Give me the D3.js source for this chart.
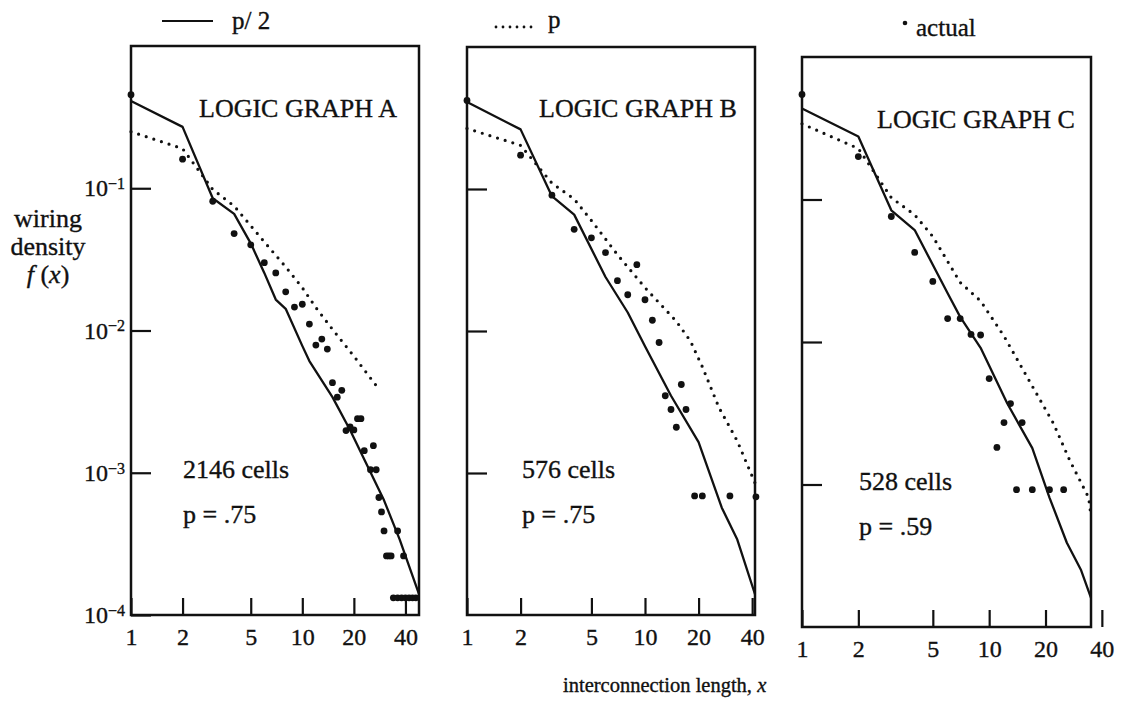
<!DOCTYPE html>
<html>
<head>
<meta charset="utf-8">
<script src="https://cdn.jsdelivr.net/npm/d3@7"></script>
<style>
  body { margin: 0; background: #fff; }
  text { font-family: "Liberation Serif", "Times New Roman", serif; fill: #111; stroke: #111; stroke-width: 0.35px; }
</style>
</head>
<body>
<svg id="chart" width="1122" height="709"></svg>
<script>
// ---- data (x = interconnection length, y = wiring density) ----
// Logic graph A
const aHalfX = [1, 2, 3, 4, 5, 6, 7, 8, 10, 11, 15, 19, 30, 37, 48];
const aHalfY = [0.41, 0.27, 0.085, 0.066, 0.041, 0.0254, 0.0165, 0.0142, 0.0078, 0.0061, 0.0034, 0.002, 0.00064, 0.00034, 0.00014];
const aFullX = [1, 2, 3, 4, 6, 8, 10, 12, 15, 20, 27];
const aFullY = [0.25, 0.19, 0.098, 0.075, 0.042, 0.028, 0.02, 0.0145, 0.0102, 0.0066, 0.0041];
const aActX = [1, 2, 3, 4, 5, 6, 7, 8, 9, 10, 11, 12, 13, 14, 15, 16, 17, 18, 19, 20, 21, 22, 23, 25, 26, 27, 28, 29, 30, 31, 32, 33, 36, 39, 34, 36, 38, 40, 42, 44, 46];
const aActY = [0.455, 0.16, 0.081, 0.048, 0.040, 0.030, 0.0254, 0.0187, 0.0146, 0.0153, 0.0111, 0.0079, 0.0087, 0.0074, 0.0043, 0.0034, 0.0038, 0.00198, 0.0021, 0.0020, 0.0024, 0.0024, 0.00143, 0.00105, 0.00155, 0.00105, 0.00067, 0.00053, 0.00039, 0.00026, 0.00026, 0.00026, 0.00039, 0.00026, 0.000132, 0.000132, 0.000132, 0.000132, 0.000132, 0.000132, 0.000132];

// Logic graph B
const bHalfX = [1, 2, 3, 4, 6, 8, 10, 14, 20, 27, 33, 41.5];
const bHalfY = [0.41, 0.263, 0.089, 0.066, 0.024, 0.0135, 0.0078, 0.0035, 0.00165, 0.00057, 0.00034, 0.00014];
const bFullX = [1, 2, 3, 4, 5, 7, 10, 15, 18, 21, 26, 33, 41.5];
const bFullY = [0.267, 0.203, 0.11, 0.085, 0.06, 0.0345, 0.0202, 0.0117, 0.0085, 0.0056, 0.0029, 0.00168, 0.00085];
const bActX = [1, 2, 3, 4, 5, 6, 7, 8, 9, 10, 11, 12, 13, 14, 15, 16, 17, 19, 21, 30, 42];
const bActY = [0.42, 0.173, 0.0905, 0.052, 0.0453, 0.0356, 0.0226, 0.018, 0.0293, 0.0166, 0.0119, 0.0083, 0.0035, 0.0028, 0.0021, 0.0042, 0.0028, 0.00069, 0.00069, 0.00069, 0.00068];

// Logic graph C
const cHalfX = [1, 2, 3, 4, 6, 7, 8, 9, 12.5, 17, 21, 26, 31, 35];
const cHalfY = [0.435, 0.277, 0.084, 0.061, 0.022, 0.015, 0.0115, 0.0091, 0.0037, 0.0018, 0.00081, 0.00039, 0.00025, 0.00016];
const cFullX = [1, 2, 3, 4, 5, 7, 9, 12, 17, 22, 27, 34, 35];
const cFullY = [0.34, 0.228, 0.103, 0.078, 0.055, 0.0262, 0.0194, 0.011, 0.0049, 0.0027, 0.00147, 0.00081, 0.0006];
const cActX = [1, 2, 3, 4, 5, 6, 7, 8, 9, 10, 11, 12, 13, 14, 15, 17, 21, 25];
const cActY = [0.546, 0.2, 0.076, 0.0425, 0.0266, 0.0146, 0.0146, 0.0113, 0.0112, 0.00554, 0.00182, 0.00272, 0.0037, 0.00092, 0.00272, 0.00092, 0.00092, 0.00092];

const panelTitles = ['LOGIC GRAPH A', 'LOGIC GRAPH B', 'LOGIC GRAPH C'];
const cellCounts = ['2146 cells', '576 cells', '528 cells'];
const pValues = ['p = .75', 'p = .75', 'p = .59'];
const xMaxes = [48, 41.5, 35];
const xTickValues = [1, 2, 5, 10, 20, 40];
const yTickValues = [1e-1, 1e-2, 1e-3, 1e-4];

// ---- layout ----
const layout = [
    {left: 131, right: 419, top: 46, bottom: 615, titleX: 199, titleY: 117, noteX: 183},
    {left: 467, right: 755, top: 47, bottom: 615, titleX: 539, titleY: 117, noteX: 522},
    {left: 802, right: 1091, top: 57, bottom: 627, titleX: 877, titleY: 128, noteX: 859}
];
const series = [
    {half: [aHalfX, aHalfY], full: [aFullX, aFullY], act: [aActX, aActY]},
    {half: [bHalfX, bHalfY], full: [bFullX, bFullY], act: [bActX, bActY]},
    {half: [cHalfX, cHalfY], full: [cFullX, cFullY], act: [cActX, cActY]}
];

const ink = '#111';
const svg = d3.select('#chart');

layout.forEach((L, i) => {
    const x = d3.scaleLog().domain([1, xMaxes[i]]).range([L.left, L.right]);
    const y = d3.scaleLog().domain([1e-4, 1]).range([L.bottom, L.top]);
    const g = svg.append('g');

    // frame
    g.append('rect')
        .attr('x', L.left).attr('y', L.top)
        .attr('width', L.right - L.left).attr('height', L.bottom - L.top)
        .attr('fill', 'none').attr('stroke', ink).attr('stroke-width', 2.5);

    // x axis (ticks pointing inward)
    const xa = g.append('g')
        .attr('transform', `translate(0,${L.bottom})`)
        .call(d3.axisBottom(x).tickValues(xTickValues).tickFormat(d3.format('d'))
            .tickSizeInner(-17).tickSizeOuter(0).tickPadding(13));
    xa.select('.domain').remove();
    xa.attr('font-size', 24).attr('font-family', null).attr('color', ink);
    xa.selectAll('.tick line').attr('stroke-width', 2.2);

    // y axis
    const ya = g.append('g')
        .attr('transform', `translate(${L.left},0)`)
        .call(d3.axisLeft(y).tickValues(i === 0 ? yTickValues : yTickValues.slice(0, 3))
            .tickSizeInner(-20).tickSizeOuter(0).tickPadding(6));
    ya.select('.domain').remove();
    ya.attr('font-size', 24).attr('font-family', null).attr('color', ink);
    ya.selectAll('.tick line').attr('stroke-width', 2.2);
    if (i === 0) {
        ya.selectAll('.tick text').each(function(d) {
            const t = d3.select(this).text(null);
            t.append('tspan').text('10');
            t.append('tspan').attr('dy', '-0.45em').attr('font-size', 16)
                .text('\u2212' + Math.round(-Math.log10(d)));
        });
    } else {
        ya.selectAll('.tick text').remove();
    }

    const line = d3.line().x(d => x(d[0])).y(d => y(d[1]));
    const S = series[i];

    // p/2 : solid
    g.append('path')
        .attr('d', line(d3.zip(S.half[0], S.half[1])))
        .attr('fill', 'none').attr('stroke', ink).attr('stroke-width', 2.3)
        .attr('stroke-linejoin', 'round');

    // p : dotted
    g.append('path')
        .attr('d', line(d3.zip(S.full[0], S.full[1])))
        .attr('fill', 'none').attr('stroke', ink).attr('stroke-width', 3.2)
        .attr('stroke-linecap', 'round').attr('stroke-dasharray', '0 8');

    // actual
    g.selectAll('circle.act')
        .data(d3.zip(S.act[0], S.act[1]))
        .join('circle')
        .attr('class', 'act')
        .attr('cx', d => x(d[0])).attr('cy', d => y(d[1]))
        .attr('r', 3.4).attr('fill', ink);

    // annotations
    g.append('text').attr('x', L.titleX).attr('y', L.titleY)
        .attr('font-size', 26).text(panelTitles[i]);
    g.append('text').attr('x', L.noteX).attr('y', L.bottom - 137)
        .attr('font-size', 26).text(cellCounts[i]);
    g.append('text').attr('x', L.noteX).attr('y', L.bottom - 92)
        .attr('font-size', 26).text(pValues[i]);
});

// ---- legend ----
svg.append('line').attr('x1', 162).attr('x2', 213).attr('y1', 21).attr('y2', 21)
    .attr('stroke', ink).attr('stroke-width', 2.2);
svg.append('text').attr('x', 232).attr('y', 29).attr('font-size', 25).text('p/ 2');

svg.append('line').attr('x1', 496).attr('x2', 538).attr('y1', 27).attr('y2', 27)
    .attr('stroke', ink).attr('stroke-width', 2.8)
    .attr('stroke-linecap', 'round').attr('stroke-dasharray', '0 7');
svg.append('text').attr('x', 548).attr('y', 28).attr('font-size', 25).text('p');

svg.append('circle').attr('cx', 905).attr('cy', 23).attr('r', 2.3).attr('fill', ink);
svg.append('text').attr('x', 916).attr('y', 36).attr('font-size', 25).text('actual');

// ---- axis titles ----
const yTitle = svg.append('text').attr('text-anchor', 'middle').attr('font-size', 26);
yTitle.append('tspan').attr('x', 48).attr('y', 227).text('wiring');
yTitle.append('tspan').attr('x', 48).attr('y', 255).text('density');
const fx = yTitle.append('tspan').attr('x', 48).attr('y', 283);
fx.append('tspan').attr('font-style', 'italic').text('f ');
fx.append('tspan').text('(');
fx.append('tspan').attr('font-style', 'italic').text('x');
fx.append('tspan').text(')');

const xTitle = svg.append('text').attr('x', 563).attr('y', 692).attr('font-size', 20.5);
xTitle.append('tspan').text('interconnection length, ');
xTitle.append('tspan').attr('font-style', 'italic').text('x');
</script>
</body>
</html>
